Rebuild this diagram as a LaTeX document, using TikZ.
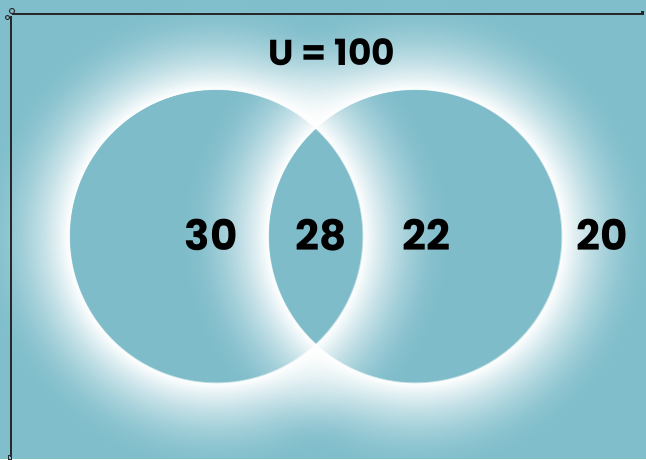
\documentclass[tikz,border=0pt]{standalone}
\usepackage{fontspec}
\usetikzlibrary{fadings}
\setmainfont{Poppins}
\definecolor{bgteal}{RGB}{128,190,203}
\definecolor{circteal}{RGB}{126,188,202}
\definecolor{inkline}{RGB}{40,40,40}
\pgfdeclareradialshading{glowshade}{\pgfpointorigin}{%
  color(0bp)=(black);
  color(15.4bp)=(black);
  color(15.47bp)=(white);
  color(16.90bp)=(white!75!black);
  color(18.33bp)=(white!53!black);
  color(20.24bp)=(white!29!black);
  color(22.14bp)=(white!11!black);
  color(23.57bp)=(white!3!black);
  color(25bp)=(black);
  color(50bp)=(black)}
\pgfdeclarefading{glowfade}{\pgfuseshading{glowshade}}
\tikzset{
  numlabel/.style={font=\fontsize{42}{42}\selectfont\bfseries, text=black, inner sep=0pt},
  borderline/.style={draw=inkline, line width=1.6pt},
  setcircle/.style={fill=circteal, draw=none},
  glow/.style={fill=white, path fading=glowfade, even odd rule},
}
\begin{document}
\begin{tikzpicture}[x=1pt,y=-1pt]
\useasboundingbox (0,0) rectangle (646,459);
\fill[bgteal] (0,0) rectangle (646,459);
% circles
\path[setcircle] (216,236) circle[radius=146];
\path[setcircle] (415,236) circle[radius=146];
% glows
\path[glow] (216,236) circle[radius=236] (216,236) circle[radius=146];
\path[glow] (415,236) circle[radius=236] (415,236) circle[radius=146];
% labels
\node[font=\fontsize{36}{36}\selectfont\bfseries, text=black, inner sep=0pt] (u) at (332,52) {U = 100};
\node[numlabel] (a) at (211,235) {30};
\node[numlabel] (ab) at (321,235) {28};
\node[numlabel] (b) at (426,235) {22};
\node[numlabel] (out) at (602,235) {20};
% border lines
\coordinate (tl) at (12,14);
\coordinate (tr) at (641,14);
\coordinate (bl) at (11,457);
\draw[borderline] (tl) -- (tr);
\draw[borderline] (11,16) -- (bl);
\draw[inkline, line width=1pt] (12,11) circle[radius=2.6];
\draw[inkline, line width=1pt] (7.5,17.5) circle[radius=2];
\fill[inkline] (641,11) rectangle (644,15);
\draw[inkline, line width=1pt] (8,455) rectangle (11,459);
\end{tikzpicture}
\end{document}
